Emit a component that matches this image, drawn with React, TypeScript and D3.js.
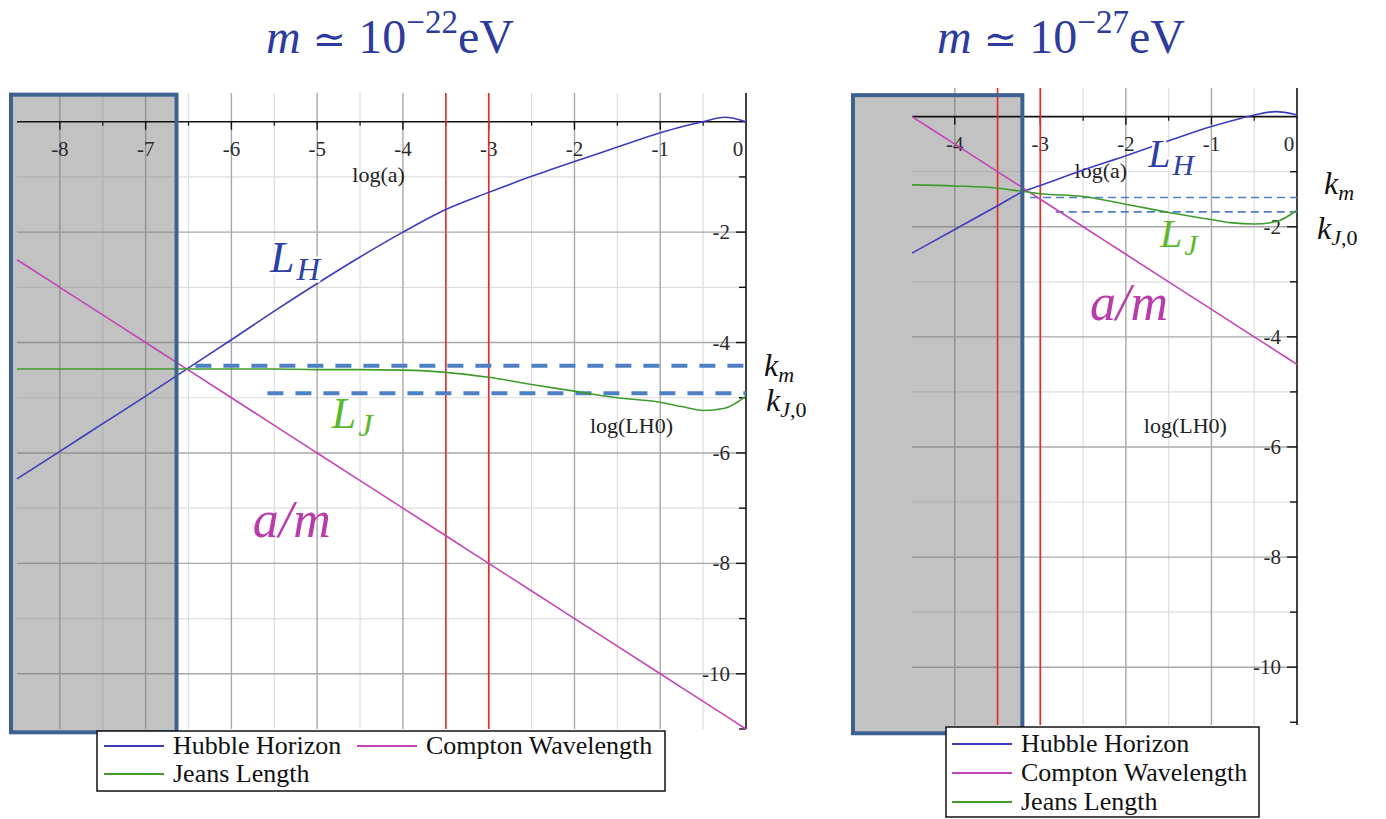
import React from 'react';
import * as d3 from 'd3';

// ---- m ~ 1e-22 eV panel ----
const logA22 = [-8.5, -8, -7.5, -7, -6.5, -6, -5.5, -5, -4.5, -4, -3.5, -3, -2.5, -2, -1.5, -1, -0.75, -0.5, -0.25, 0];
const hubble22 = [-6.47, -5.97, -5.47, -4.97, -4.46, -3.95, -3.43, -2.93, -2.45, -2.0, -1.59, -1.28, -0.99, -0.72, -0.46, -0.2, -0.09, 0.0, 0.08, 0.0];
const compton22 = [-2.5, -3, -3.5, -4, -4.5, -5, -5.5, -6, -6.5, -7, -7.5, -8, -8.5, -9, -9.5, -10, -10.25, -10.5, -10.75, -11];
const jeans22 = [-4.48, -4.48, -4.48, -4.48, -4.48, -4.48, -4.48, -4.49, -4.49, -4.5, -4.54, -4.63, -4.76, -4.88, -5.0, -5.08, -5.16, -5.23, -5.19, -4.97];
const kLevels22 = [-4.42, -4.92]; // k_m, k_J0
const kStarts22 = [-6.42, -5.58];
const box22 = [-8.57, -6.64, -11.06, 0.49];

// ---- m ~ 1e-27 eV panel ----
const logA27 = [-4.5, -4, -3.5, -3.2, -3, -2.5, -2, -1.5, -1, -0.75, -0.5, -0.25, 0];
const hubble27 = [-2.48, -2.05, -1.62, -1.36, -1.25, -0.97, -0.71, -0.44, -0.18, -0.07, 0.03, 0.09, 0.03];
const compton27 = [0, -0.5, -1, -1.3, -1.5, -2, -2.5, -3, -3.5, -3.75, -4, -4.25, -4.5];
const jeans27 = [-1.24, -1.26, -1.3, -1.36, -1.4, -1.45, -1.59, -1.74, -1.87, -1.93, -1.95, -1.91, -1.7];
const kLevels27 = [-1.47, -1.73];
const kStarts27 = [-3.12, -2.82];
const box27 = [-5.19, -3.21, -11.2, 0.39];

const redLogA = [-3.5, -3];
const legendNames = ['Hubble Horizon', 'Compton Wavelength', 'Jeans Length'];

const C = {
  hubble: '#3c3cbc',
  compton: '#c444b8',
  jeans: '#3f9c2c',
  red: '#e42a26',
  dash: '#4d7fc6',
  title: '#2d3b9c',
  lh: '#2c40a8',
  lj: '#5cb82e',
  am: '#b83caa',
  boxStroke: '#3d6190',
};
const serif = '"Liberation Serif", "Times New Roman", serif';

function Panel(p: any) {
  const x = d3.scaleLinear().domain(p.xDomain).range(p.xRange);
  const y = d3.scaleLinear().domain(p.yDomain).range(p.yRange);
  const [x0, x1] = p.xRange;
  const [yb, yt] = p.yRange;
  const line = d3.line<number>().x((_, i) => x(p.logA[i])).y(d => y(d)).curve(d3.curveMonotoneX);

  const xMajor = d3.range(Math.ceil(p.xDomain[0]), 0, 1);
  const xMinor = d3.range(Math.ceil(p.xDomain[0]) - 0.5, 0, 1).filter(v => v > p.xDomain[0]);
  const yInts = d3.range(-10, 0, 1);
  const yTicks = d3.range(-11, 0, 1);

  const [bx0, bx1, by0, by1] = p.box;
  const series = [p.hubble, p.compton, p.jeans];
  const colors = [C.hubble, C.compton, C.jeans];
  const halo = { stroke: '#fff', strokeWidth: 5, paintOrder: 'stroke' } as any;

  return (
    <g style={{ fontFamily: serif }}>
      {/* title */}
      <text x={p.titleX} y={53} textAnchor="middle" fontSize={48} fill={C.title}>
        <tspan fontStyle="italic">m</tspan>
        <tspan> </tspan>
        <tspan style={{ fontFamily: '"DejaVu Serif", serif' }} fontSize={40}>≃</tspan>
        <tspan> 10</tspan>
        <tspan dy={-20} fontSize={33}>−{p.exponent}</tspan>
        <tspan dy={20}>eV</tspan>
      </text>

      {/* grid */}
      {xMinor.map(v => <line key={'xm' + v} x1={x(v)} x2={x(v)} y1={yt} y2={yb} stroke="#dedede" strokeWidth={1.2} />)}
      {yInts.filter(v => v % 2 !== 0).map(v => <line key={'ym' + v} x1={x0} x2={x1} y1={y(v)} y2={y(v)} stroke="#dedede" strokeWidth={1.2} />)}
      {xMajor.map(v => <line key={'xM' + v} x1={x(v)} x2={x(v)} y1={yt} y2={yb} stroke="#a8a8a8" strokeWidth={1.4} />)}
      {yInts.filter(v => v % 2 === 0).map(v => <line key={'yM' + v} x1={x0} x2={x1} y1={y(v)} y2={y(v)} stroke="#a8a8a8" strokeWidth={1.4} />)}

      {/* shaded early-time region */}
      <rect x={x(bx0)} y={y(by1)} width={x(bx1) - x(bx0)} height={y(by0) - y(by1)} fill="rgba(120,120,120,0.45)" />

      {/* axes */}
      <line x1={x0} x2={x1} y1={y(0)} y2={y(0)} stroke="#111" strokeWidth={1.6} />
      <line x1={x(0)} x2={x(0)} y1={yt} y2={yb} stroke="#111" strokeWidth={1.6} />
      {xMajor.map(v => <line key={'xt' + v} x1={x(v)} x2={x(v)} y1={y(0)} y2={y(0) + 8} stroke="#111" strokeWidth={1.4} />)}
      {xMinor.map(v => <line key={'xtm' + v} x1={x(v)} x2={x(v)} y1={y(0)} y2={y(0) + 4} stroke="#111" strokeWidth={1.2} />)}
      {yTicks.map(v => <line key={'yt' + v} x1={x(0) - (v % 2 === 0 ? 10 : 7)} x2={x(0)} y1={y(v)} y2={y(v)} stroke="#111" strokeWidth={1.4} />)}
      {[...xMajor, 0].map(v => (
        <text key={'xl' + v} x={x(v) + (v === 0 ? -8 : 0)} y={y(0) + 34} textAnchor="middle" fontSize={21} fill="#2a2a2a">{v === 0 ? '0' : '-' + Math.abs(v)}</text>
      ))}
      {yInts.filter(v => v % 2 === 0).map(v => (
        <text key={'yl' + v} x={x(0) - 16} y={y(v) + 7} textAnchor="end" fontSize={21} fill="#2a2a2a">{'-' + Math.abs(v)}</text>
      ))}
      <text x={x(p.logALabel[0])} y={y(p.logALabel[1])} fontSize={22} fill="#222">log(a)</text>
      <text x={x(p.lh0Label[0])} y={y(p.lh0Label[1])} fontSize={22} fill="#222">log(LH0)</text>

      {/* red epoch markers */}
      {redLogA.map(v => <line key={'r' + v} x1={x(v)} x2={x(v)} y1={yt} y2={yb} stroke={C.red} strokeWidth={1.6} />)}

      {/* k levels */}
      {p.kLevels.map((v: number, i: number) => (
        <line key={'k' + i} x1={x(p.kStarts[i])} x2={x(0)} y1={y(v)} y2={y(v)} stroke={C.dash} strokeWidth={p.dashWidth} strokeDasharray={p.dashArray} />
      ))}

      {/* curves */}
      {series.map((s, i) => <path key={'s' + i} d={line(s) || ''} fill="none" stroke={colors[i]} strokeWidth={1.6} />)}

      {/* box outline */}
      <rect x={x(bx0)} y={y(by1)} width={x(bx1) - x(bx0)} height={y(by0) - y(by1)} fill="none" stroke={C.boxStroke} strokeWidth={4} />

      {/* curve labels */}
      <text x={x(p.lhPos[0])} y={y(p.lhPos[1])} fontStyle="italic" fontSize={p.labelSize} fill={C.lh} {...halo}>
        L<tspan dx={2} dy={8} fontSize={p.labelSize * 0.74}>H</tspan>
      </text>
      <text x={x(p.ljPos[0])} y={y(p.ljPos[1])} fontStyle="italic" fontSize={p.labelSize} fill={C.lj}>
        L<tspan dx={2} dy={8} fontSize={p.labelSize * 0.74}>J</tspan>
      </text>
      <text x={x(p.amPos[0])} y={y(p.amPos[1])} fontStyle="italic" fontSize={52} fill={C.am}>a/m</text>

      {/* k labels */}
      <text x={p.kmLabel[0]} y={p.kmLabel[1]} fontSize={32} fill="#111">
        <tspan fontStyle="italic">k</tspan><tspan dy={6} fontSize={22} fontStyle="italic">m</tspan>
      </text>
      <text x={p.kjLabel[0]} y={p.kjLabel[1]} fontSize={32} fill="#111">
        <tspan fontStyle="italic">k</tspan><tspan dy={6} fontSize={22}><tspan fontStyle="italic">J</tspan>,0</tspan>
      </text>

      {/* legend */}
      <rect x={p.legend.x0} y={p.legend.y0} width={p.legend.x1 - p.legend.x0} height={p.legend.y1 - p.legend.y0} fill="#fff" stroke="#111" strokeWidth={1.5} />
      {legendNames.map((name, i) => {
        const [lx, ly] = p.legend.items[i];
        return (
          <g key={'lg' + i}>
            <line x1={lx} x2={lx + 60} y1={ly} y2={ly} stroke={colors[i]} strokeWidth={2} />
            <text x={lx + 69} y={ly + 8} fontSize={26} fill="#111">{name}</text>
          </g>
        );
      })}
    </g>
  );
}

const panel22 = {
  xDomain: [-8.5, 0], yDomain: [-11, 0.52], xRange: [17, 746], yRange: [729, 93],
  logA: logA22, hubble: hubble22, compton: compton22, jeans: jeans22,
  kLevels: kLevels22, kStarts: kStarts22, box: box22,
  dashWidth: 4, dashArray: '16 12',
  exponent: '22', titleX: 390,
  logALabel: [-4.59, -1.09], lh0Label: [-1.82, -5.63],
  lhPos: [-5.55, -2.72], ljPos: [-4.83, -5.54], amPos: [-5.75, -7.52], labelSize: 44,
  kmLabel: [764, 376], kjLabel: [766, 411],
  legend: { x0: 97, x1: 665, y0: 731, y1: 791, items: [[104, 746], [357, 746], [104, 774]] },
};

const panel27 = {
  xDomain: [-4.5, 0], yDomain: [-11.05, 0.52], xRange: [912, 1297], yRange: [725, 88],
  logA: logA27, hubble: hubble27, compton: compton27, jeans: jeans27,
  kLevels: kLevels27, kStarts: kStarts27, box: box27,
  dashWidth: 1.6, dashArray: '8 5',
  exponent: '27', titleX: 1061,
  logALabel: [-2.6, -1.12], lh0Label: [-1.79, -5.75],
  lhPos: [-1.74, -0.92], ljPos: [-1.6, -2.37], amPos: [-2.42, -3.69], labelSize: 40,
  kmLabel: [1324, 194], kjLabel: [1317, 239],
  legend: { x0: 946, x1: 1259, y0: 727, y1: 817, items: [[952, 744], [952, 773], [952, 802]] },
};

export default function App() {
  return (
    <div style={{ position: 'absolute', left: 0, top: 0 }}>
      <svg width={1386} height={819} style={{ display: 'block', background: '#fff' }}>
        <Panel {...panel22} />
        <Panel {...panel27} />
      </svg>
    </div>
  );
}
